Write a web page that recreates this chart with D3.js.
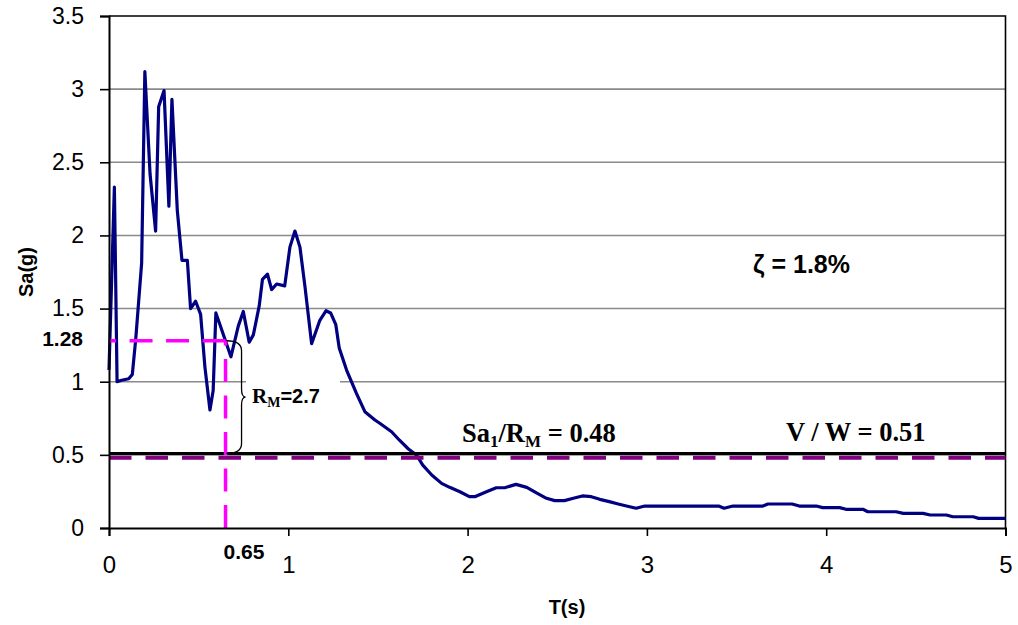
<!DOCTYPE html>
<html>
<head>
<meta charset="utf-8">
<script src="https://cdn.jsdelivr.net/npm/d3@7"></script>
<style>
  html, body { margin: 0; padding: 0; background: #fff; }
  svg { display: block; }
</style>
</head>
<body>
<svg id="chart" width="1018" height="625"></svg>
<script>
// ---- data ----
const periodT = [0.0, 0.03, 0.045, 0.07, 0.11, 0.13, 0.149, 0.182, 0.2, 0.229, 0.26, 0.277, 0.307, 0.334, 0.351, 0.381, 0.407, 0.437, 0.455, 0.483, 0.511, 0.535, 0.563, 0.581, 0.596, 0.619, 0.68, 0.721, 0.749, 0.782, 0.805, 0.838, 0.856, 0.884, 0.907, 0.935, 0.98, 1.009, 1.037, 1.065, 1.093, 1.13, 1.176, 1.21, 1.236, 1.265, 1.284, 1.325, 1.38, 1.427, 1.483, 1.51, 1.576, 1.62, 1.67, 1.715, 1.75, 1.80, 1.855, 1.90, 1.957, 2.01, 2.04, 2.105, 2.16, 2.207, 2.27, 2.33, 2.384, 2.44, 2.486, 2.54, 2.59, 2.64, 2.69, 2.737, 2.79, 2.84, 2.886, 2.94, 2.988, 3.40, 3.43, 3.48, 3.647, 3.675, 3.81, 3.85, 3.945, 3.98, 4.075, 4.11, 4.205, 4.232, 4.39, 4.43, 4.54, 4.58, 4.67, 4.706, 4.82, 4.85, 5.0];
const spectralSa = [1.08, 2.33, 1.0, 1.01, 1.02, 1.05, 1.29, 1.81, 3.12, 2.42, 2.03, 2.88, 2.99, 2.2, 2.93, 2.17, 1.83, 1.83, 1.50, 1.55, 1.46, 1.1, 0.807, 0.94, 1.47, 1.39, 1.17, 1.38, 1.48, 1.27, 1.32, 1.52, 1.70, 1.735, 1.63, 1.668, 1.655, 1.92, 2.03, 1.92, 1.65, 1.26, 1.42, 1.485, 1.47, 1.39, 1.23, 1.08, 0.92, 0.795, 0.738, 0.716, 0.658, 0.60, 0.54, 0.499, 0.43, 0.362, 0.305, 0.278, 0.248, 0.214, 0.214, 0.248, 0.275, 0.275, 0.298, 0.278, 0.24, 0.203, 0.187, 0.187, 0.203, 0.219, 0.214, 0.196, 0.18, 0.164, 0.15, 0.135, 0.15, 0.15, 0.135, 0.15, 0.15, 0.164, 0.164, 0.15, 0.15, 0.139, 0.139, 0.128, 0.128, 0.111, 0.111, 0.10, 0.10, 0.089, 0.089, 0.077, 0.077, 0.066, 0.066];
const xTicks = [0, 1, 2, 3, 4, 5];
const yTicks = [0, 0.5, 1, 1.5, 2, 2.5, 3, 3.5];
const vOverW = 0.51;
const saOverRm = 0.48;
const designT = 0.65;
const designSa = 1.28;
const rmValue = "2.7";
const dampingText = "ζ = 1.8%";

// ---- layout ----
const svg = d3.select("#chart");
const pL = 109, pR = 1005.5, pT = 16, pB = 528;
const x = d3.scaleLinear().domain([0, 5]).range([pL, pR]);
const y = d3.scaleLinear().domain([0, 3.5]).range([pB, pT]);
const sans = "'Liberation Sans', Arial, sans-serif";
const serif = "'Liberation Serif', 'Times New Roman', serif";

// gridlines
svg.append("g").selectAll("line")
  .data(yTicks.filter(v => v > 0 && v < 3.5))
  .join("line")
  .attr("x1", pL).attr("x2", pR)
  .attr("y1", d => y(d)).attr("y2", d => y(d))
  .attr("stroke", "#8a8a8a").attr("stroke-width", 1.6);

// plot border top/right
svg.append("path")
  .attr("d", `M${pL},${y(3.5)}H${pR}V${pB}`)
  .attr("fill", "none").attr("stroke", "#000").attr("stroke-width", 1.6);

// white box behind RM label
svg.append("rect")
  .attr("x", 246).attr("y", 368).attr("width", 94).attr("height", 44)
  .attr("fill", "#fff");

// spectrum curve
const pts = periodT.map((t, i) => [t, spectralSa[i]]);
svg.append("path")
  .datum(pts)
  .attr("d", d3.line().x(d => x(d[0])).y(d => y(d[1])))
  .attr("fill", "none").attr("stroke", "#000080").attr("stroke-width", 3.2)
  .attr("stroke-linejoin", "round");

// V/W solid black line
svg.append("line")
  .attr("x1", x(0)).attr("x2", x(5))
  .attr("y1", y(vOverW)).attr("y2", y(vOverW))
  .attr("stroke", "#000").attr("stroke-width", 3);

// Sa1/RM purple dashed
svg.append("line")
  .attr("x1", x(0)).attr("x2", x(5))
  .attr("y1", y(saOverRm)).attr("y2", y(saOverRm))
  .attr("stroke", "#800080").attr("stroke-width", 4)
  .attr("stroke-dasharray", "22.5,14");

// magenta dashed guides
svg.append("line")
  .attr("x1", x(designT)).attr("x2", x(designT))
  .attr("y1", y(0)).attr("y2", y(designSa))
  .attr("stroke", "#ff00ff").attr("stroke-width", 3.5)
  .attr("stroke-dasharray", "23,13.5");
svg.append("line")
  .attr("x1", x(designT)).attr("x2", x(0))
  .attr("y1", y(designSa)).attr("y2", y(designSa))
  .attr("stroke", "#ff00ff").attr("stroke-width", 3.5)
  .attr("stroke-dasharray", "23,13.5");

// brace
const bx0 = x(designT) + 1, bx1 = bx0 + 15, bTop = y(designSa), bBot = y(vOverW);
const bMid = (bTop + bBot) / 2;
svg.append("path")
  .attr("d", `M${bx0},${bTop} Q${bx1},${bTop} ${bx1},${bTop + 10} V${bMid - 8} Q${bx1},${bMid} ${bx1 + 4},${bMid} Q${bx1},${bMid} ${bx1},${bMid + 8} V${bBot - 10} Q${bx1},${bBot} ${bx0},${bBot}`)
  .attr("fill", "none").attr("stroke", "#000").attr("stroke-width", 1.3);

// axes
const gx = svg.append("g").attr("transform", `translate(0,${pB})`)
  .call(d3.axisBottom(x).tickValues(xTicks).tickSize(8).tickPadding(20).tickFormat(d3.format("d")));
gx.select(".domain").attr("stroke", "#000").attr("stroke-width", 2);
gx.selectAll(".tick line").attr("stroke", "#000").attr("stroke-width", 1.6);
gx.selectAll("text").attr("font-family", sans).attr("font-size", 24).attr("fill", "#000");

const gy = svg.append("g").attr("transform", `translate(${pL},0)`)
  .call(d3.axisLeft(y).tickValues(yTicks).tickSize(9).tickPadding(16).tickFormat(d => String(d)));
gy.select(".domain").attr("stroke", "#000").attr("stroke-width", 2);
gy.selectAll(".tick line").attr("stroke", "#000").attr("stroke-width", 1.6);
gy.selectAll("text").attr("font-family", sans).attr("font-size", 23).attr("fill", "#000");

// axis titles
svg.append("text").attr("x", 567).attr("y", 614).attr("text-anchor", "middle")
  .attr("font-family", sans).attr("font-weight", "bold").attr("font-size", 20).text("T(s)");
svg.append("text").attr("transform", `translate(33,${(pT + pB) / 2}) rotate(-90)`)
  .attr("text-anchor", "middle")
  .attr("font-family", sans).attr("font-weight", "bold").attr("font-size", 20).text("Sa(g)");

// 1.28 and 0.65 labels
svg.append("text").attr("x", 83).attr("y", 346).attr("text-anchor", "end")
  .attr("font-family", sans).attr("font-weight", "bold").attr("font-size", 21).text(String(designSa));
svg.append("text").attr("x", 244).attr("y", 559).attr("text-anchor", "middle")
  .attr("font-family", sans).attr("font-weight", "bold").attr("font-size", 21).text(String(designT));

// RM label
const rm = svg.append("text").attr("x", 252).attr("y", 403).attr("font-weight", "bold");
rm.append("tspan").attr("font-family", serif).attr("font-size", 21).text("R");
rm.append("tspan").attr("font-family", serif).attr("font-size", 14).attr("dy", 4).text("M");
rm.append("tspan").attr("font-family", sans).attr("font-size", 20).attr("dy", -4).text("=" + rmValue);

// Sa1/RM label
const s1 = svg.append("text").attr("x", 462).attr("y", 442)
  .attr("font-family", serif).attr("font-weight", "bold").attr("font-size", 26.5);
s1.append("tspan").text("Sa");
s1.append("tspan").attr("font-size", 17).attr("dy", 5).text("1");
s1.append("tspan").attr("dy", -5).text("/R");
s1.append("tspan").attr("font-size", 17).attr("dy", 5).text("M");
s1.append("tspan").attr("dy", -5).text(" = " + saOverRm.toFixed(2));

// V/W label
svg.append("text").attr("x", 786).attr("y", 441)
  .attr("font-family", serif).attr("font-weight", "bold").attr("font-size", 26.5)
  .text("V / W = " + vOverW.toFixed(2));

// damping label
svg.append("text").attr("x", 753).attr("y", 273)
  .attr("font-family", sans).attr("font-weight", "bold").attr("font-size", 25)
  .text(dampingText);
</script>
</body>
</html>
